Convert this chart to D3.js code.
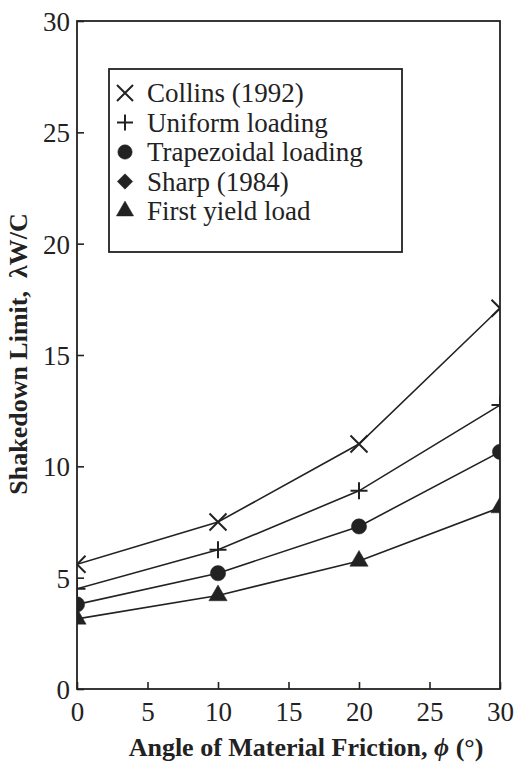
<!DOCTYPE html>
<html lang="en">
<head>
    <meta charset="UTF-8">
    <title>Shakedown Limit vs Angle of Material Friction</title>
    <script src="https://cdnjs.cloudflare.com/ajax/libs/d3/7.8.5/d3.min.js"></script>
    <style>
        body {
            margin: 0;
            background-color: #fff;
        }
        svg text {
            font-family: "Liberation Serif", "DejaVu Serif", serif;
            fill: #222;
        }
        .axis-title {
            font-weight: bold;
            font-size: 26px;
        }
    </style>
</head>
<body>
<div id="chart"></div>

<script>
// Data
const phi = [0, 10, 20, 30];
const collins = [5.6, 7.5, 11.0, 17.1];
const uniform = [4.5, 6.25, 8.9, 12.75];
const trapezoidal = [3.8, 5.2, 7.3, 10.65];
const sharp = []; // legend only, no visible points
const firstYield = [3.15, 4.2, 5.75, 8.15];

const xTicks = [0, 5, 10, 15, 20, 25, 30];
const yTicks = [0, 5, 10, 15, 20, 25, 30];

const seriesNames = ["Collins (1992)", "Uniform loading", "Trapezoidal loading", "Sharp (1984)", "First yield load"];
const seriesValues = [collins, uniform, trapezoidal, sharp, firstYield];
const seriesSymbols = ["x", "plus", "circle", "diamond", "triangle"];

const width = 518;
const height = 764;
const margin = { top: 21, right: 18, bottom: 75, left: 77 };

const svg = d3.select("#chart").append("svg")
    .attr("width", width)
    .attr("height", height);

const xScale = d3.scaleLinear().domain([0, 30]).range([margin.left, width - margin.right]);
const yScale = d3.scaleLinear().domain([0, 30]).range([height - margin.bottom, margin.top]);

const ink = "#222";

// clip to plot area (end markers are cut in half by the frame)
svg.append("clipPath").attr("id", "plot-clip")
    .append("rect")
    .attr("x", xScale(0)).attr("y", yScale(30))
    .attr("width", xScale(30) - xScale(0))
    .attr("height", yScale(0) - yScale(30));

// axes with inward ticks
const xAxis = svg.append("g")
    .attr("transform", `translate(0,${yScale(0)})`)
    .call(d3.axisBottom(xScale).tickValues(xTicks).tickSize(-7).tickPadding(13).tickFormat(d3.format("d")));
const yAxis = svg.append("g")
    .attr("transform", `translate(${xScale(0)},0)`)
    .call(d3.axisLeft(yScale).tickValues(yTicks).tickSize(-7).tickPadding(7).tickFormat(d3.format("d")));

[xAxis, yAxis].forEach(ax => {
    ax.attr("font-family", null);
    ax.select(".domain").remove();
    ax.selectAll("line").attr("stroke", ink).attr("stroke-width", 1.6);
    ax.selectAll("text").style("font-size", "27px").attr("fill", ink);
});
xAxis.selectAll("text").attr("dy", "0.71em");
yAxis.selectAll("text").attr("dy", "0.35em");

// frame
svg.append("rect")
    .attr("x", xScale(0)).attr("y", yScale(30))
    .attr("width", xScale(30) - xScale(0))
    .attr("height", yScale(0) - yScale(30))
    .attr("fill", "none")
    .attr("stroke", ink)
    .attr("stroke-width", 1.8);

function symbolPath(type, s) {
    const h = s / 2;
    if (type === "x") return `M${-h},${-h}L${h},${h}M${-h},${h}L${h},${-h}`;
    if (type === "plus") return `M${-h},0L${h},0M0,${-h}L0,${h}`;
    if (type === "circle") return d3.symbol(d3.symbolCircle, Math.PI * (s * 0.45) ** 2)();
    if (type === "diamond") return d3.symbol(d3.symbolSquare, (s * 0.68) ** 2)();
    if (type === "triangle") return d3.symbol(d3.symbolTriangle, s * s * 0.5)();
}

function drawSymbol(g, type, x, y, s) {
    const stroked = type === "x" || type === "plus";
    g.append("path")
        .attr("d", symbolPath(type, s))
        .attr("transform", `translate(${x},${y})` + (type === "diamond" ? " rotate(45)" : ""))
        .attr("fill", stroked ? "none" : ink)
        .attr("stroke", ink)
        .attr("stroke-width", stroked ? 2 : 0.5);
}

const plot = svg.append("g").attr("clip-path", "url(#plot-clip)");

const line = d3.line()
    .x((d, i) => xScale(phi[i]))
    .y(d => yScale(d));

seriesValues.forEach((vals, k) => {
    if (!vals.length) return;
    plot.append("path")
        .attr("d", line(vals))
        .attr("fill", "none")
        .attr("stroke", ink)
        .attr("stroke-width", 1.6);
    vals.forEach((v, i) => drawSymbol(plot, seriesSymbols[k], xScale(phi[i]), yScale(v), 17));
});

// legend
const legend = svg.append("g");
legend.append("rect")
    .attr("x", 109).attr("y", 69)
    .attr("width", 293).attr("height", 183)
    .attr("fill", "#fff")
    .attr("stroke", ink)
    .attr("stroke-width", 1.8);

seriesNames.forEach((name, k) => {
    const y = 93 + k * 29.5;
    drawSymbol(legend, seriesSymbols[k], 125, y, 16);
    legend.append("text")
        .attr("x", 147).attr("y", y)
        .attr("dy", "0.35em")
        .style("font-size", "27px")
        .text(name);
});

// axis titles
const xTitle = svg.append("text")
    .attr("class", "axis-title")
    .attr("x", 306).attr("y", 756)
    .attr("text-anchor", "middle");
xTitle.append("tspan").text("Angle of Material Friction, ");
xTitle.append("tspan").style("font-style", "italic").text("\u03D5");
xTitle.append("tspan").text(" (\u00B0)");

svg.append("text")
    .attr("class", "axis-title")
    .attr("transform", "translate(27,354) rotate(-90)")
    .attr("text-anchor", "middle")
    .style("white-space", "pre")
    .text("Shakedown Limit,  \u03BBW/C");
</script>
</body>
</html>
